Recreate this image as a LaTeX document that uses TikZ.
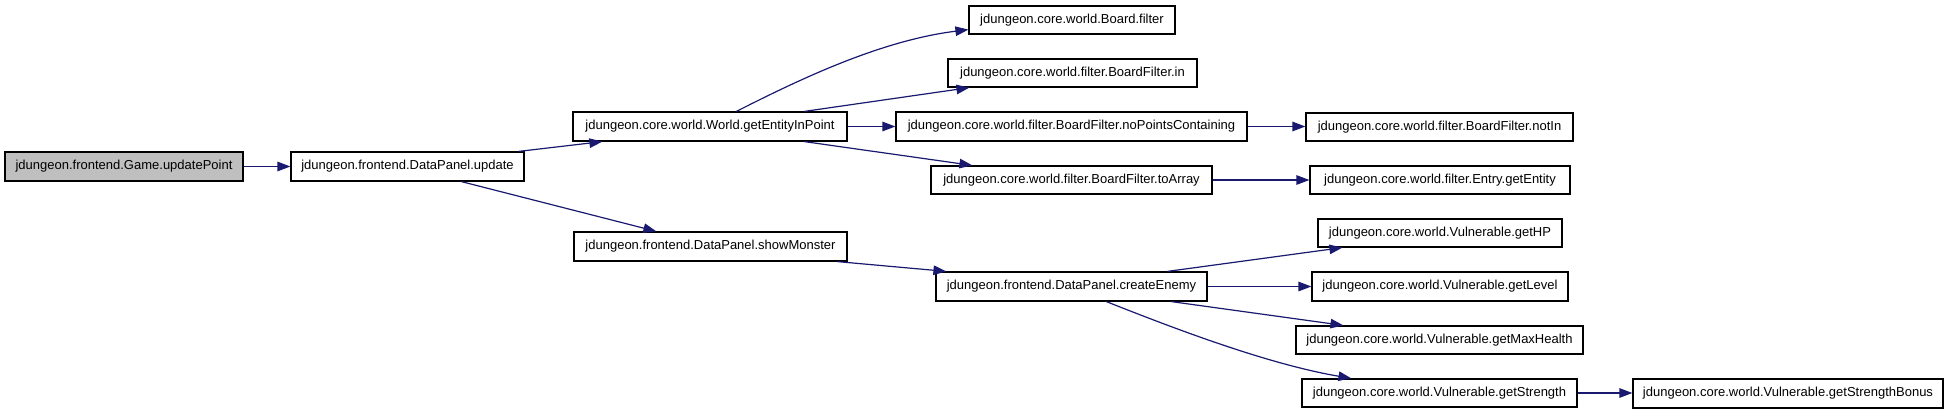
\documentclass[tikz,border=0pt]{standalone}
\usepackage{fontspec}
\setmainfont{Liberation Sans}
\usetikzlibrary{arrows.meta,calc}
\definecolor{edgeblue}{RGB}{25,25,112}
\definecolor{rootgray}{RGB}{191,191,191}
\tikzset{
  fn/.style={draw=black, line width=1.2pt, fill=white, inner sep=0pt, anchor=center,
    font=\fontsize{13}{15}\selectfont},
  rootfn/.style={fn, fill=rootgray},
  call/.style={draw=edgeblue, line width=1.2pt, -{Triangle[length=13pt,width=9.5pt]}}
}
\begin{document}
\begin{tikzpicture}[x=1pt,y=-1pt]
\useasboundingbox[fill=white] (0,0) rectangle (1949,413);
\node[rootfn, minimum width=238, minimum height=29] (up) at (124,166.5) {jdungeon.frontend.Game.updatePoint};
\node[fn, minimum width=233, minimum height=29] (upd) at (407.5,166.5) {jdungeon.frontend.DataPanel.update};
\node[fn, minimum width=274, minimum height=29] (gep) at (710,126.5) {jdungeon.core.world.World.getEntityInPoint};
\node[fn, minimum width=206, minimum height=28] (bf) at (1072,20) {jdungeon.core.world.Board.filter};
\node[fn, minimum width=249, minimum height=28] (bfin) at (1072.5,73) {jdungeon.core.world.filter.BoardFilter.in};
\node[fn, minimum width=351, minimum height=29] (npc) at (1071.5,126.5) {jdungeon.core.world.filter.BoardFilter.noPointsContaining};
\node[fn, minimum width=281, minimum height=28] (ta) at (1071.5,180) {jdungeon.core.world.filter.BoardFilter.toArray};
\node[fn, minimum width=267, minimum height=28] (notin) at (1439.5,127) {jdungeon.core.world.filter.BoardFilter.notIn};
\node[fn, minimum width=260, minimum height=28] (ge) at (1440,180) {jdungeon.core.world.filter.Entry.getEntity};
\node[fn, minimum width=273, minimum height=29] (sm) at (710.5,246.5) {jdungeon.frontend.DataPanel.showMonster};
\node[fn, minimum width=271, minimum height=29] (ce) at (1071.5,286.5) {jdungeon.frontend.DataPanel.createEnemy};
\node[fn, minimum width=244, minimum height=28] (hp) at (1440,233) {jdungeon.core.world.Vulnerable.getHP};
\node[fn, minimum width=256, minimum height=29] (lvl) at (1440,286.5) {jdungeon.core.world.Vulnerable.getLevel};
\node[fn, minimum width=287, minimum height=28] (mh) at (1439.5,340) {jdungeon.core.world.Vulnerable.getMaxHealth};
\node[fn, minimum width=275, minimum height=28] (gs) at (1439.5,393) {jdungeon.core.world.Vulnerable.getStrength};
\node[fn, minimum width=310, minimum height=29] (gsb) at (1788,393.5) {jdungeon.core.world.Vulnerable.getStrengthBonus};

\draw[call] (up.east) -- (up.east -| upd.west);
\draw[call] ($(upd.north east)+(-6,0)$) -- ($(gep.south west)+(30,0)$);
\draw[call] ($(upd.south west)+(171,0)$) -- ($(sm.north west)+(83,0)$);
\draw[call] ($(gep.north west)+(164,0)$) .. controls +(63,-32) and +(-88,11) .. ($(bf.south west)+(0,-5)$);
\draw[call] ($(gep.north west)+(232,0)$) -- ($(bfin.south west)+(22,0)$);
\draw[call] (gep.east) -- (gep.east -| npc.west);
\draw[call] ($(gep.south west)+(232,0)$) -- ($(ta.north west)+(42,0)$);
\draw[call] (npc.east) -- (npc.east -| notin.west);
\draw[call] (ta.east) -- (ta.east -| ge.west);
\draw[call] ($(sm.south west)+(264,0)$) -- ($(ce.north west)+(11,0)$);
\draw[call] ($(ce.north west)+(232,0)$) -- ($(hp.south west)+(25,0)$);
\draw[call] (ce.east) -- (ce.east -| lvl.west);
\draw[call] ($(ce.south west)+(236,0)$) -- ($(mh.north west)+(48,0)$);
\draw[call] ($(ce.south west)+(171,0)$) .. controls +(73,29) and +(-82,-14) .. ($(gs.north west)+(50,0)$);
\draw[call] (gs.east) -- (gs.east -| gsb.west);
\end{tikzpicture}
\end{document}
